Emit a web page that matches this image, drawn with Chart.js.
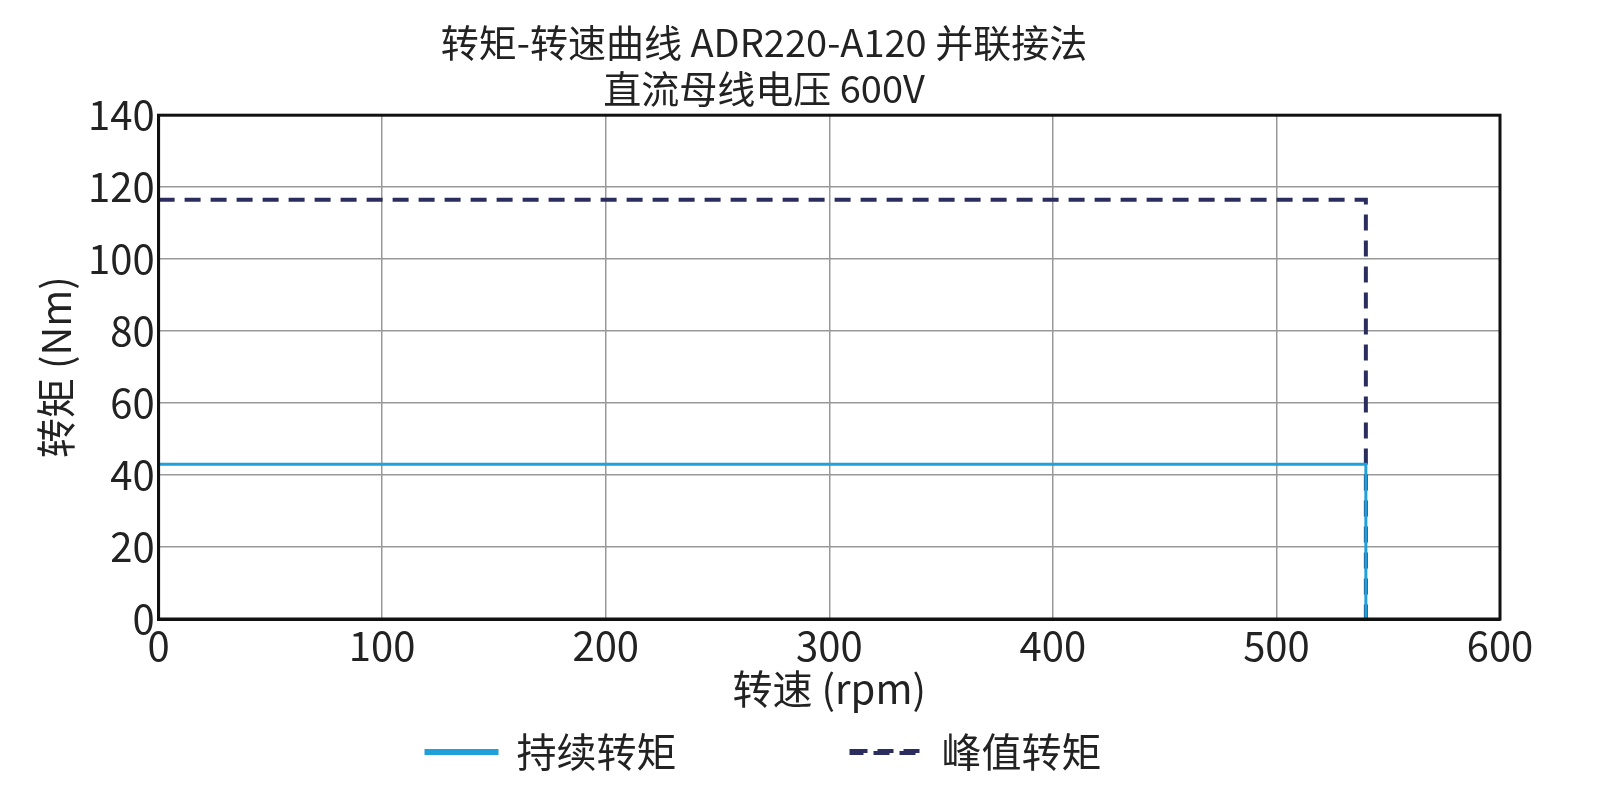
<!DOCTYPE html>
<html><head><meta charset="utf-8">
<script src="https://cdn.jsdelivr.net/npm/chart.js@4"></script>
<style>body{margin:0;background:#fff}#w{width:1545px;height:792px}</style>
</head><body><div id="w"><canvas id="c"></canvas></div>
<script>
const speedCont=[0,540,540];
const torqueCont=[43,43,0];
const speedPeak=[0,540,540];
const torquePeak=[116.5,116.5,0];
const seriesNames=['持续转矩','峰值转矩'];
const F="'Noto Sans CJK SC','Noto Sans',sans-serif";
const pts=(xs,ys)=>xs.map((x,i)=>({x,y:ys[i]}));
new Chart(document.getElementById('c'),{
type:'line',
data:{datasets:[
{label:seriesNames[0],data:pts(speedCont,torqueCont),borderColor:'#1fa0d8',backgroundColor:'#1fa0d8',borderWidth:3,pointRadius:0,tension:0},
{label:seriesNames[1],data:pts(speedPeak,torquePeak),borderColor:'#2b2d5e',backgroundColor:'#2b2d5e',borderWidth:4,borderDash:[16,10],pointRadius:0,tension:0}
]},
options:{responsive:true,maintainAspectRatio:false,animation:false,
layout:{padding:{left:28,right:45,top:20,bottom:10}},
plugins:{
title:{display:true,text:['转矩-转速曲线 ADR220-A120 并联接法','直流母线电压 600V'],font:{family:F,size:38,weight:'normal'},color:'#222',lineHeight:1.85,padding:{bottom:4}},
legend:{position:'bottom',labels:{font:{family:F,size:40},color:'#222',boxWidth:70,boxHeight:2,padding:15,
generateLabels:(ch)=>ch.data.datasets.map((d,i)=>({text:d.label+(i==0?'\u3000\u3000\u3000\u3000':''),strokeStyle:d.borderColor,fillStyle:'rgba(0,0,0,0)',lineWidth:4,lineDash:d.borderDash||[],datasetIndex:i,fontColor:'#222'}))}},
tooltip:{enabled:false}},
scales:{
x:{type:'linear',min:0,max:600,ticks:{stepSize:100,font:{family:F,size:40},color:'#222'},
title:{display:true,text:'转速 (rpm)',font:{family:F,size:40},color:'#222',padding:{top:-8}},
grid:{color:'#999',lineWidth:1.5,drawTicks:false},border:{color:'#111',width:3}},
y:{min:0,max:140,ticks:{stepSize:20,font:{family:F,size:40},color:'#222',padding:4},
title:{display:true,text:'转矩 (Nm)',font:{family:F,size:40},color:'#222'},
grid:{color:'#999',lineWidth:1.5,drawTicks:false},border:{color:'#111',width:3}}
}},
plugins:[{id:'frame',afterDraw(ch){const a=ch.chartArea,c=ch.ctx;c.save();c.strokeStyle='#111';c.lineWidth=3;c.strokeRect(a.left,a.top,a.right-a.left,a.bottom-a.top);c.restore();}}]
});
</script></body></html>
